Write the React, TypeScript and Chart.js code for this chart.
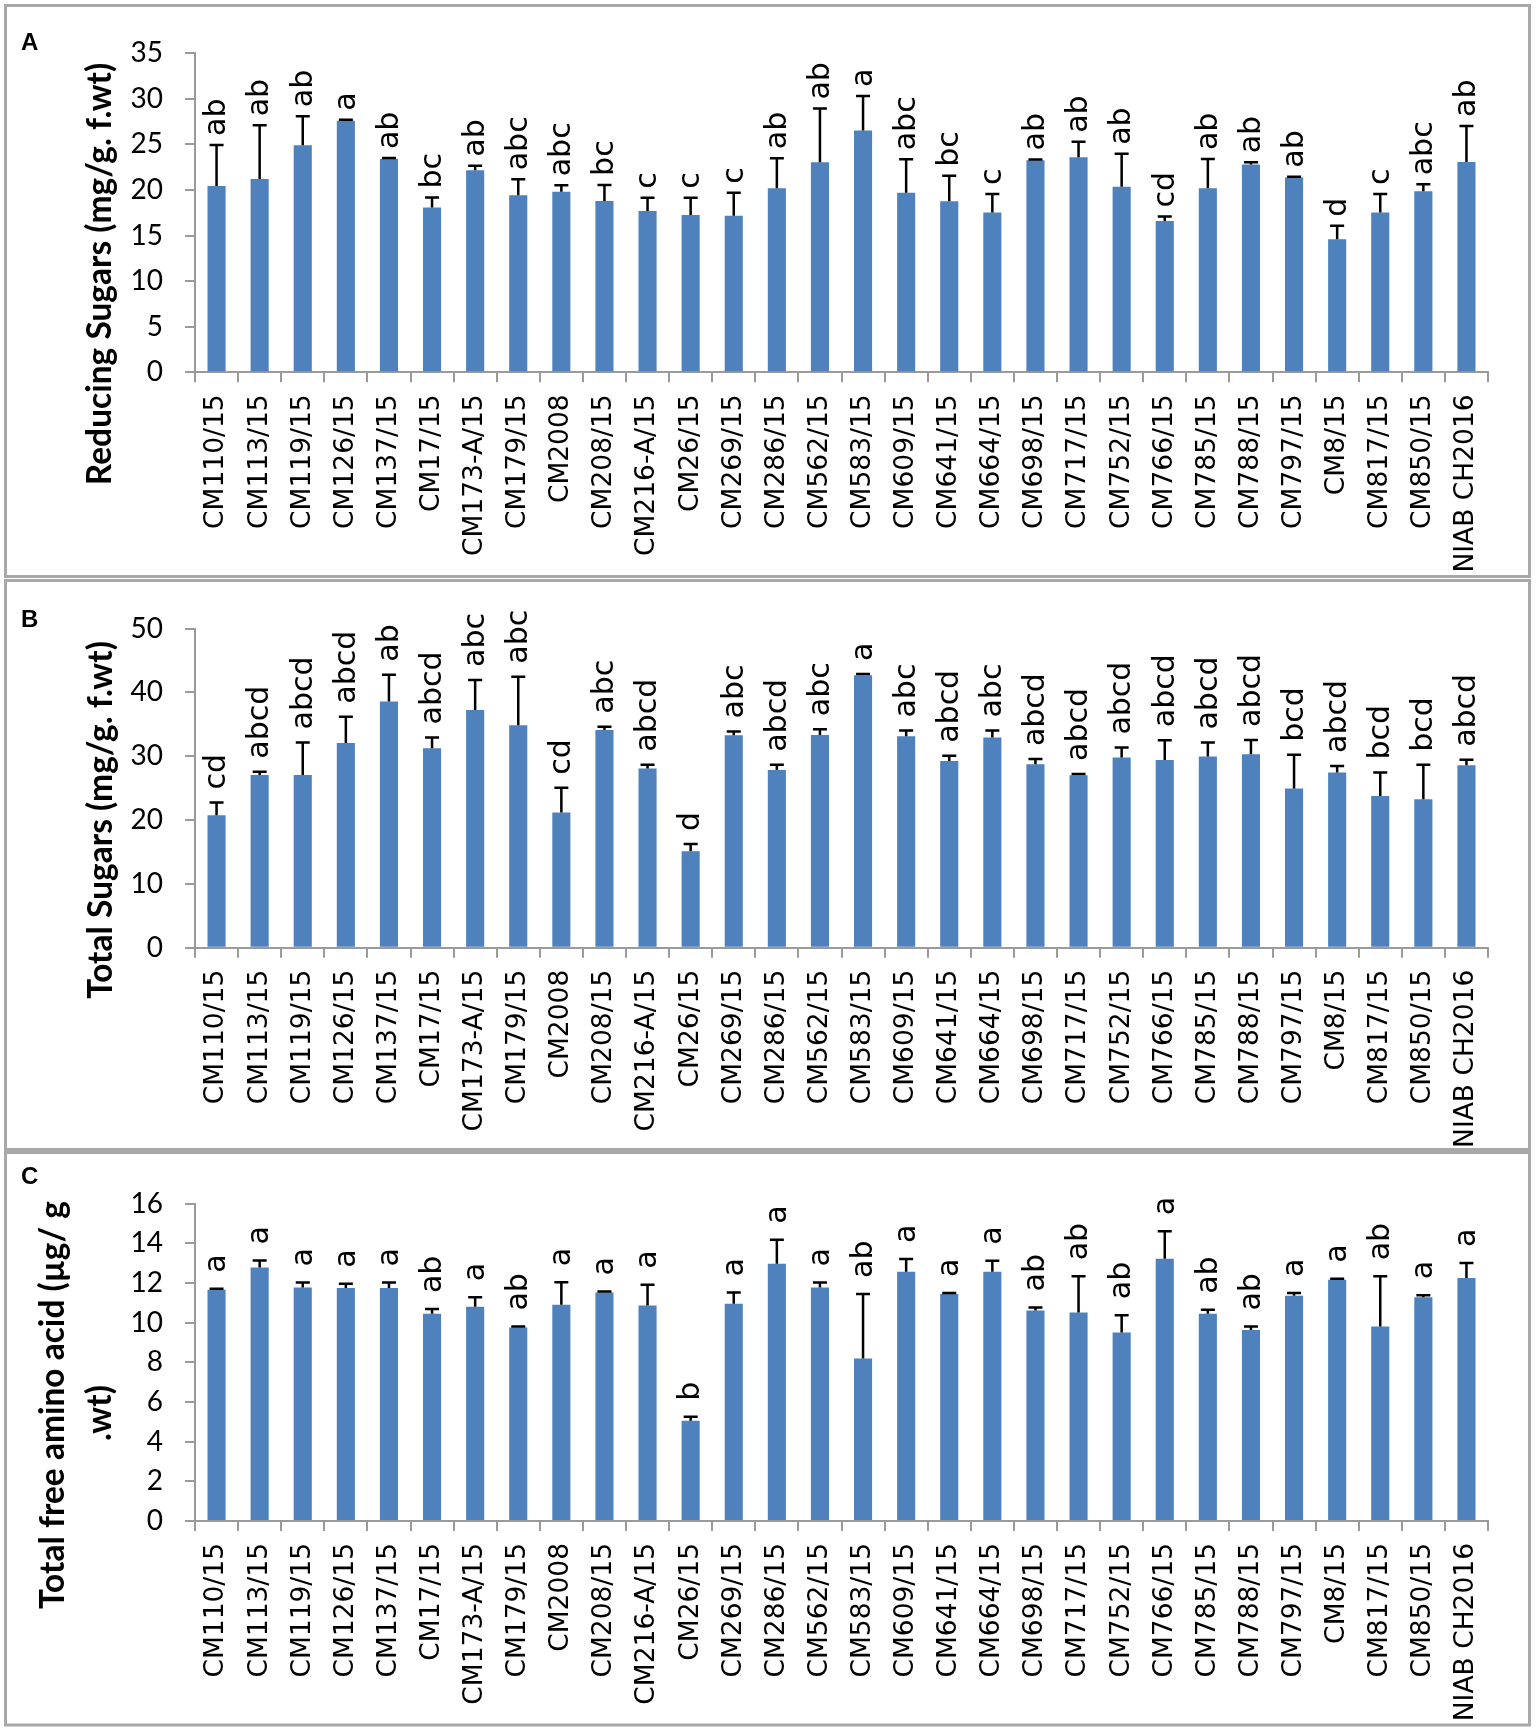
import React, { useEffect, useRef } from "react";
import { Chart, registerables } from "chart.js";

Chart.register(...registerables);

const categories = [
  "CM110/15", "CM113/15", "CM119/15", "CM126/15", "CM137/15", "CM17/15", "CM173-A/15", "CM179/15",
  "CM2008", "CM208/15", "CM216-A/15", "CM26/15", "CM269/15", "CM286/15", "CM562/15", "CM583/15",
  "CM609/15", "CM641/15", "CM664/15", "CM698/15", "CM717/15", "CM752/15", "CM766/15", "CM785/15",
  "CM788/15", "CM797/15", "CM8/15", "CM817/15", "CM850/15", "NIAB CH2016",
];

const reducingSugars = [
  20.45, 21.2, 24.9, 27.6, 23.4, 18.07, 22.17, 19.42, 19.82, 18.8, 17.7, 17.26, 17.19, 20.19, 23.04,
  26.52, 19.71, 18.76, 17.52, 23.26, 23.59, 20.37, 16.6, 20.19, 22.79, 21.36, 14.59, 17.52, 19.86, 23.08,
];
const reducingErr = [
  4.5, 5.9, 3.2, 0.1, 0.1, 1.1, 0.5, 1.76, 0.7, 1.76, 1.46, 1.9, 2.5, 3.3, 5.9,
  3.8, 3.66, 2.8, 2.05, 0.1, 1.7, 3.6, 0.5, 3.2, 0.25, 0.1, 1.5, 2.05, 0.77, 3.95,
];
const reducingLetters = [
  "ab", "ab", "ab", "a", "ab", "bc", "ab", "abc", "abc", "bc", "c", "c", "c", "ab", "ab",
  "a", "abc", "bc", "c", "ab", "ab", "ab", "cd", "ab", "ab", "ab", "d", "c", "abc", "ab",
];

const totalSugars = [
  20.74, 27.06, 27.06, 32.08, 38.56, 31.24, 37.25, 34.85, 21.16, 34.12, 28.06, 15.1, 33.28, 27.85, 33.33,
  42.69, 33.12, 29.26, 32.92, 28.74, 27.01, 29.78, 29.41, 29.94, 30.3, 24.92, 27.43, 23.77, 23.25, 28.58,
];
const totalErr = [
  2.0, 0.5, 5.1, 4.1, 4.2, 1.7, 4.7, 7.6, 3.9, 0.5, 0.6, 1.15, 0.6, 0.8, 0.9,
  0.2, 0.9, 0.8, 1.1, 0.8, 0.2, 1.57, 3.1, 2.2, 2.25, 5.3, 1.04, 3.66, 5.4, 0.85,
];
const totalLetters = [
  "cd", "abcd", "abcd", "abcd", "ab", "abcd", "abc", "abc", "cd", "abc", "abcd", "d", "abc", "abcd", "abc",
  "a", "abc", "abcd", "abc", "abcd", "abcd", "abcd", "abcd", "abcd", "abcd", "bcd", "abcd", "bcd", "bcd", "abcd",
];

const aminoAcid = [
  11.65, 12.78, 11.77, 11.74, 11.74, 10.44, 10.8, 9.75, 10.9, 11.52, 10.86, 5.05, 10.95, 12.97, 11.77,
  8.19, 12.56, 11.44, 12.56, 10.61, 10.51, 9.5, 13.22, 10.44, 9.63, 11.35, 12.16, 9.8, 11.28, 12.24,
];
const aminoErr = [
  0.05, 0.35, 0.25, 0.22, 0.28, 0.24, 0.47, 0.05, 1.13, 0.05, 1.04, 0.2, 0.57, 1.2, 0.25,
  3.25, 0.64, 0.05, 0.56, 0.15, 1.82, 0.87, 1.38, 0.2, 0.17, 0.14, 0.05, 2.53, 0.1, 0.76,
];
const aminoLetters = [
  "a", "a", "a", "a", "a", "ab", "a", "ab", "a", "a", "a", "b", "a", "a", "a",
  "ab", "a", "a", "a", "ab", "ab", "ab", "a", "ab", "ab", "a", "a", "ab", "a", "a",
];

const yTitleA = ["Reducing Sugars (mg/g. f.wt)"];
const yTitleB = ["Total Sugars (mg/g. f.wt)"];
const yTitleC = ["Total free amino acid (\u00b5g/ g", ".wt)"];

const BAR_COLOR = "#4f81bd";
const AXIS_COLOR = "#9a9a9a";
const BORDER_COLOR = "#a8a8a8";
const W = 1536;

type Spec = {
  letter: string;
  title: string[];
  titlePos: [number, number][];
  values: number[];
  errors: number[];
  sig: string[];
  max: number;
  step: number;
  top: number;
  height: number;
  areaTop: number;
  areaBottom: number;
  borderTop: number;
  borderBottom: number;
  letterBaseline: number;
  sigGap: number;
};

const specs: Spec[] = [
  {
    letter: "A", title: yTitleA, titlePos: [[100, 274]], values: reducingSugars, errors: reducingErr,
    sig: reducingLetters, max: 35, step: 5, top: 0, height: 578, areaTop: 53.3, areaBottom: 372.3,
    borderTop: 5.5, borderBottom: 576.5, letterBaseline: 50, sigGap: 9,
  },
  {
    letter: "B", title: yTitleB, titlePos: [[101, 242]], values: totalSugars, errors: totalErr,
    sig: totalLetters, max: 50, step: 10, top: 578, height: 573, areaTop: 50.5, areaBottom: 369.7,
    borderTop: 2.5, borderBottom: 571.5, letterBaseline: 49, sigGap: 13,
  },
  {
    letter: "C", title: yTitleC, titlePos: [[53, 254], [100, 262]], values: aminoAcid, errors: aminoErr,
    sig: aminoLetters, max: 16, step: 2, top: 1151, height: 581, areaTop: 52.5, areaBottom: 370,
    borderTop: 1.5, borderBottom: 574, letterBaseline: 33, sigGap: 16,
  },
];

function makePlugin(spec: Spec) {
  return {
    id: "panelDecor" + spec.letter,
    afterDatasetsDraw(chart: any) {
      const ctx = chart.ctx;
      const meta = chart.getDatasetMeta(0);
      const yScale = chart.scales.y;
      ctx.save();
      meta.data.forEach((bar: any, i: number) => {
        const top = yScale.getPixelForValue(spec.values[i]);
        const et = yScale.getPixelForValue(spec.values[i] + spec.errors[i]);
        ctx.strokeStyle = "#000";
        ctx.lineWidth = 2.5;
        ctx.beginPath();
        ctx.moveTo(bar.x, top);
        ctx.lineTo(bar.x, et);
        ctx.moveTo(bar.x - 7, et);
        ctx.lineTo(bar.x + 7, et);
        ctx.stroke();
        ctx.save();
        ctx.translate(bar.x + 1, et - spec.sigGap);
        ctx.rotate(-Math.PI / 2);
        ctx.font = '30px "DejaVu Sans"';
        ctx.fillStyle = "#000";
        ctx.textAlign = "left";
        ctx.textBaseline = "middle";
        ctx.fillText(spec.sig[i], 0, 0);
        ctx.restore();
      });
      ctx.restore();
    },
    afterDraw(chart: any) {
      const ctx = chart.ctx;
      ctx.save();
      ctx.strokeStyle = BORDER_COLOR;
      ctx.lineWidth = 3;
      ctx.strokeRect(5.5, spec.borderTop, 1524, spec.borderBottom - spec.borderTop);
      ctx.fillStyle = "#000";
      ctx.font = 'bold 24px "Liberation Sans"';
      ctx.textAlign = "left";
      ctx.textBaseline = "alphabetic";
      ctx.fillText(spec.letter, 21, spec.letterBaseline);
      ctx.font = 'bold 33.5px Lato';
      spec.title.forEach((line, k) => {
        const [cx, cy] = spec.titlePos[k];
        ctx.save();
        ctx.translate(cx, cy);
        ctx.rotate(-Math.PI / 2);
        ctx.textAlign = "center";
        ctx.textBaseline = "middle";
        ctx.fillText(line, 0, 0);
        ctx.restore();
      });
      ctx.restore();
    },
  };
}

function Panel({ spec }: { spec: Spec }) {
  const ref = useRef<HTMLCanvasElement | null>(null);
  useEffect(() => {
    if (!ref.current) return;
    const chart = new Chart(ref.current, {
      type: "bar",
      data: {
        labels: categories,
        datasets: [
          {
            data: spec.values,
            backgroundColor: BAR_COLOR,
            borderWidth: 0,
            barPercentage: 0.42,
            categoryPercentage: 1,
          },
        ],
      },
      options: {
        animation: false,
        responsive: false,
        devicePixelRatio: 1,
        layout: { padding: { left: 0, top: spec.areaTop, right: W - 1488, bottom: 0 } },
        plugins: { legend: { display: false }, tooltip: { enabled: false }, title: { display: false } },
        scales: {
          x: {
            offset: true,
            grid: {
              display: true, drawOnChartArea: false, drawTicks: true, tickLength: 10,
              color: AXIS_COLOR, lineWidth: 2, offset: true,
            },
            border: { display: true, color: AXIS_COLOR, width: 2 },
            ticks: {
              autoSkip: false, minRotation: 90, maxRotation: 90, padding: 12, color: "#000",
              font: { family: "DejaVu Sans", size: 26.5 },
            },
            afterFit(scale: any) {
              scale.height = spec.height - spec.areaBottom;
            },
          },
          y: {
            min: 0,
            max: spec.max,
            grid: {
              display: true, drawOnChartArea: false, drawTicks: true, tickLength: 10,
              color: AXIS_COLOR, lineWidth: 2,
            },
            border: { display: true, color: AXIS_COLOR, width: 2 },
            ticks: { stepSize: spec.step, padding: 22, color: "#000", font: { family: "Lato", size: 28 } },
            afterFit(scale: any) {
              scale.width = 195;
            },
          },
        },
      },
      plugins: [makePlugin(spec)],
    } as any);
    return () => chart.destroy();
  }, [spec]);
  return (
    <canvas
      ref={ref}
      width={W}
      height={spec.height}
      style={{ position: "absolute", left: 0, top: spec.top, width: W, height: spec.height }}
    />
  );
}

export default function App() {
  return (
    <div style={{ position: "absolute", left: 0, top: 0, width: W, height: 1732, background: "#fff" }}>
      {specs.map((s) => (
        <Panel key={s.letter} spec={s} />
      ))}
    </div>
  );
}
